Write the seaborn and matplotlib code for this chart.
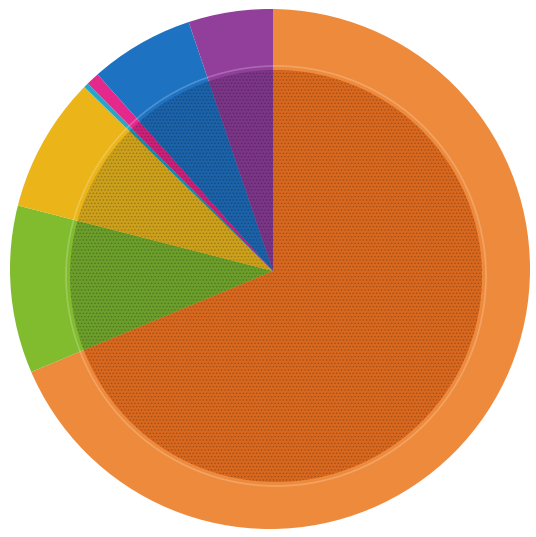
import matplotlib
matplotlib.use("Agg")
import matplotlib.pyplot as plt
import seaborn as sns
import numpy as np

sns.set_theme(style="white")
plt.rcParams['font.family'] = ['DejaVu Sans']

categories = ["Orange", "Green", "Yellow", "Cyan", "Magenta", "Blue", "Purple"]
values = [68.7, 10.3, 8.3, 0.3, 0.8, 6.4, 5.2]
outer_colors = ["#EE8A3C", "#80BC2E", "#EBB419", "#22A7CC", "#E4288C", "#1E72C2", "#913F9B"]
inner_colors = ["#D9681F", "#6B9E2A", "#CDA01B", "#1C8FB0", "#C92278", "#1B62A8", "#7B3586"]

S = 260.0  # pixels per data unit
fig = plt.figure(figsize=(5.36, 5.37), dpi=100)
ax = fig.add_axes([0, 0, 1, 1])

outer = ax.pie(values, colors=outer_colors, startangle=90, counterclock=False, radius=1.05,
               wedgeprops=dict(linewidth=0))[0]
plt.rcParams['hatch.linewidth'] = 0.7
inner = ax.pie(values, colors=inner_colors, startangle=90, counterclock=False, radius=1.05,
               wedgeprops=dict(linewidth=0))[0]

ax.set_aspect('auto')
ax.set_xlim(-273 / S, (536 - 273) / S)
ax.set_ylim(-(537 - 271) / S, 271 / S)
ax.axis('off')

outer_clip = plt.Circle((-3 / S, 2 / S), 1.0, transform=ax.transData)
inner_clip = plt.Circle((3 / S, -5 / S), 206 / S, transform=ax.transData)

for w in outer:
    w.set_clip_on(True)
    w.set_clip_path(outer_clip)
for w in inner:
    w.set_hatch('.....')
    w.set_edgecolor((0, 0, 0, 0.2))
    w.set_linewidth(0)
    w.set_clip_on(True)
    w.set_clip_path(inner_clip)

ring = plt.Circle((3 / S, -5 / S), 210 / S, fill=False, edgecolor=(1, 1, 1, 0.22), linewidth=1.2)
ax.add_patch(ring)

fig.savefig("out.png", dpi=100)
